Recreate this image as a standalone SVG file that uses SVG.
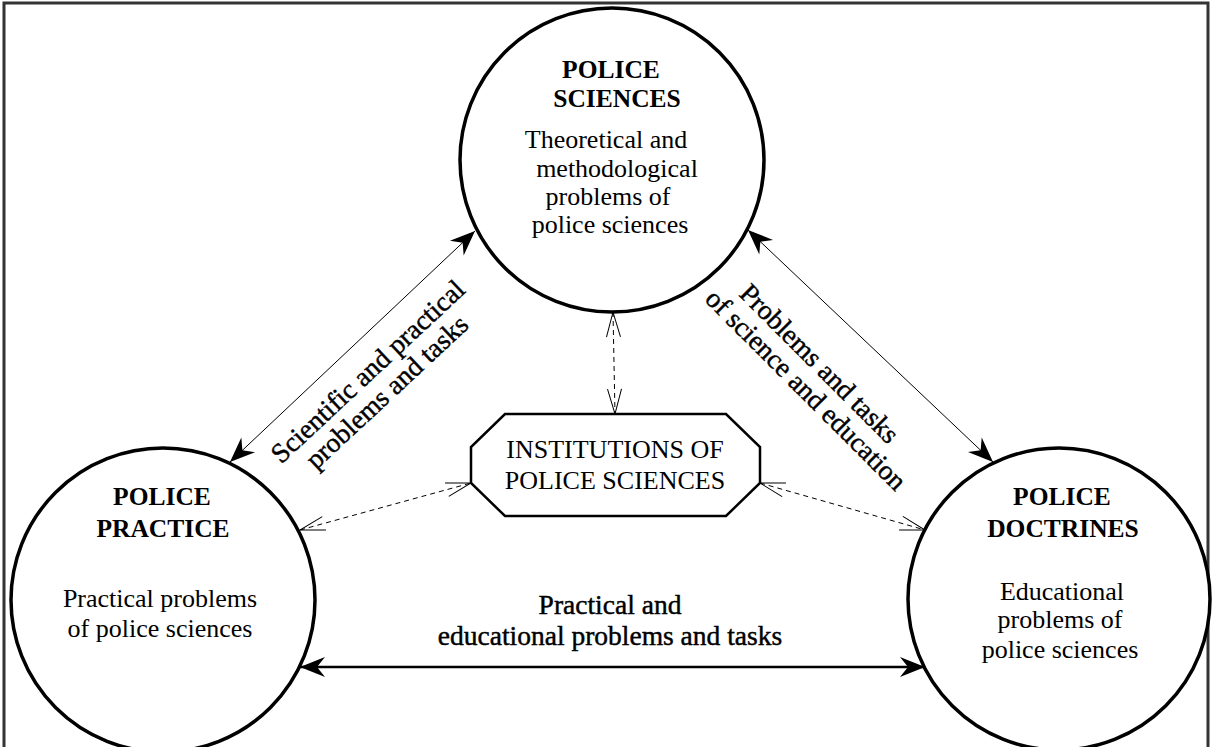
<svg xmlns="http://www.w3.org/2000/svg" width="1212" height="747" viewBox="0 0 1212 747">
<style>
text{font-family:"Liberation Serif","Times New Roman",serif;fill:#000;text-anchor:middle}
.t{font-size:25.5px;font-weight:bold}
.b{font-size:26px}
.l{font-size:27.5px;stroke:#000;stroke-width:0.45}
.node{fill:#fff;stroke:#000;stroke-width:3.5}
.oct{fill:#fff;stroke:#000;stroke-width:2.5}
.thin{stroke:#000;stroke-width:1;fill:none}
.thick{stroke:#000;stroke-width:2.5;fill:none}
.dash{stroke:#000;stroke-width:1;fill:none;stroke-dasharray:5 4}
</style>
<defs>
<marker id="solid" markerUnits="userSpaceOnUse" viewBox="-28 -14 30 28" markerWidth="30" markerHeight="28" refX="0" refY="0" orient="auto-start-reverse" overflow="visible">
<path d="M0,0 L-25,-10 L-17,0 L-25,10 Z" fill="#000"/>
</marker>
<marker id="open" markerUnits="userSpaceOnUse" viewBox="-28 -10 30 20" markerWidth="30" markerHeight="20" refX="0" refY="0" orient="auto-start-reverse" overflow="visible">
<path d="M-25,-7 L0,0 L-25,7" fill="none" stroke="#000" stroke-width="1"/>
</marker>
</defs>
<rect x="0" y="0" width="1212" height="747" fill="#fff"/>
<rect x="4" y="3" width="1204" height="760" fill="none" stroke="#333" stroke-width="3"/>
<g id="connectors">
<line class="thin" x1="230" y1="462" x2="475" y2="231" marker-start="url(#solid)" marker-end="url(#solid)"/>
<line class="thin" x1="748" y1="230" x2="993" y2="462" marker-start="url(#solid)" marker-end="url(#solid)"/>
<line class="thick" x1="300" y1="667" x2="925" y2="667" marker-start="url(#solid)" marker-end="url(#solid)"/>
<line class="dash" x1="613" y1="312" x2="615" y2="414" marker-start="url(#open)" marker-end="url(#open)"/>
<line class="dash" x1="300" y1="530" x2="471" y2="483" marker-start="url(#open)" marker-end="url(#open)"/>
<line class="dash" x1="760" y1="483" x2="925" y2="530" marker-start="url(#open)" marker-end="url(#open)"/>
<g transform="translate(374,378) rotate(-43)">
<text class="l" x="0" y="0">Scientific and practical</text>
<text class="l" x="0" y="28">problems and tasks</text>
</g>
<g transform="translate(813,370) rotate(45)">
<text class="l" x="0" y="0">Problems and tasks</text>
<text class="l" x="9" y="28">of science and education</text>
</g>
<text class="l" x="610" y="614">Practical and</text>
<text class="l" x="610" y="645">educational problems and tasks</text>
</g>
<g id="police-sciences">
<circle class="node" cx="612" cy="160" r="152"/>
<text class="t" x="611" y="78">POLICE</text>
<text class="t" x="617" y="107">SCIENCES</text>
<text class="b" x="606" y="148">Theoretical and</text>
<text class="b" x="617" y="177">methodological</text>
<text class="b" x="608" y="205">problems of</text>
<text class="b" x="610" y="233">police sciences</text>
</g>
<g id="police-practice">
<circle class="node" cx="163" cy="600" r="152"/>
<text class="t" x="162" y="505">POLICE</text>
<text class="t" x="163" y="537">PRACTICE</text>
<text class="b" x="160" y="607">Practical problems</text>
<text class="b" x="160" y="637">of police sciences</text>
</g>
<g id="police-doctrines">
<circle class="node" cx="1059" cy="599" r="151"/>
<text class="t" x="1062" y="505">POLICE</text>
<text class="t" x="1063" y="537">DOCTRINES</text>
<text class="b" x="1062" y="600">Educational</text>
<text class="b" x="1060" y="628">problems of</text>
<text class="b" x="1060" y="658">police sciences</text>
</g>
<g id="institutions">
<polygon class="oct" points="505,414 726,414 760,447 760,483 726,516 505,516 471,483 471,447"/>
<text class="b" x="615" y="458">INSTITUTIONS OF</text>
<text class="b" x="615" y="489">POLICE SCIENCES</text>
</g>
</svg>
